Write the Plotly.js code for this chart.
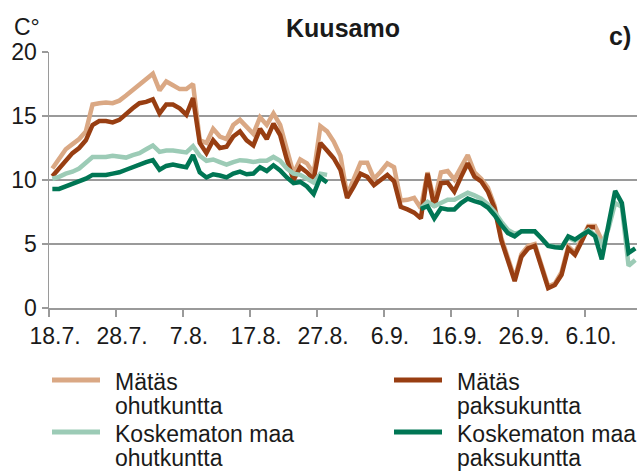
<!DOCTYPE html>
<html>
<head>
<meta charset="utf-8">
<script src="https://cdn.plot.ly/plotly-3.0.1.min.js"></script>
<style>html,body{margin:0;padding:0;background:#fff;}#chart{width:642px;height:473px;}</style>
</head>
<body>
<div id="chart"></div>
<script>
// Tick labels (every 10 days, starting 18.7.)
const tickLabels = ['18.7.', '28.7.', '7.8.', '17.8.', '27.8.', '6.9.', '16.9.', '26.9.', '6.10.'];

// Series names
const seriesNames = ['Mätäs<br>ohutkuntta', 'Mätäs<br>paksukuntta', 'Koskematon maa<br>ohutkuntta', 'Koskematon maa<br>paksukuntta'];

// Daily temperatures (°C), day 0 = 18.7.
const matasOhut = [10.9,11.7,12.4,12.8,13.2,13.8,15.9,16.0,16.05,16.0,
  16.2,16.6,17.0,17.4,17.8,18.3,17.0,17.7,17.4,17.1,
  17.1,17.5,13.1,12.9,14.0,13.4,13.2,14.3,14.7,14.1,
  13.6,14.9,14.3,15.2,14.3,12.4,10.5,11.6,11.3,10.5,
  14.2,13.8,13.0,11.9,8.8,10.1,11.35,11.35,10.1,10.65,
  11.3,11.0,8.4,8.45,8.6,7.8,10.6,8.3,10.6,10.7,
  10.05,11.0,11.95,10.6,10.1,9.4,8.0,5.5,3.8,2.3,
  4.2,4.85,5.0,3.4,1.7,1.9,2.8,4.8,4.3,5.4,
  6.4,6.4,5.3];

const matasPaksu = [10.3,10.9,11.6,12.1,12.5,13.1,14.3,14.6,14.6,14.5,
  14.7,15.2,15.6,16.0,16.1,16.3,15.2,15.9,15.9,15.6,
  15.1,16.4,12.9,12.1,13.1,12.5,12.6,13.4,13.8,13.1,
  12.7,14.0,13.2,14.4,13.5,11.6,10.0,11.0,10.6,10.05,
  12.9,12.3,11.7,10.8,8.6,9.5,10.5,10.25,9.6,10.0,
  10.4,9.9,7.9,7.7,7.45,7.0,10.5,7.9,9.75,9.8,
  9.1,10.25,11.3,10.25,9.9,9.1,7.8,5.3,3.6,2.1,
  4.0,4.65,4.85,3.2,1.55,1.8,2.6,4.65,4.15,5.2,
  6.3,6.3];

const koskOhut = [10.1,10.25,10.5,10.65,10.9,11.4,11.8,11.8,11.8,11.9,
  11.8,11.75,11.95,12.1,12.4,12.7,12.2,12.3,12.3,12.25,
  12.15,12.65,11.9,11.5,11.6,11.4,11.2,11.4,11.55,11.5,
  11.4,11.5,11.5,11.8,11.5,10.9,10.5,10.4,10.1,9.8,
  10.5,10.4,
  null,null,null,null,null,null,null,null,null,null,null,null,null,
  7.8,8.3,7.95,8.2,8.45,8.45,8.7,9.0,8.8,8.55,
  8.1,7.5,6.75,6.1,5.8,5.95,6.0,5.95,5.45,4.9,
  4.8,4.8,5.5,5.25,5.7,6.1,5.7,5.0,6.2,8.2,
  7.9,3.3,3.75];

const koskPaksu = [9.3,9.3,9.5,9.7,9.9,10.1,10.4,10.4,10.4,10.5,
  10.6,10.8,11.0,11.25,11.4,11.55,10.8,11.1,11.2,11.1,
  11.0,11.95,10.6,10.2,10.45,10.35,10.2,10.5,10.65,10.45,
  10.5,11.0,10.7,11.15,10.75,10.2,9.75,9.85,9.5,8.9,
  10.2,9.8,
  null,null,null,null,null,null,null,null,null,null,null,null,null,
  7.75,7.95,7.0,7.8,7.7,7.7,8.2,8.55,8.35,8.2,
  7.85,7.25,6.5,5.85,5.6,6.0,6.0,6.0,5.45,4.85,
  4.75,4.7,5.6,5.35,5.7,6.0,5.6,3.8,6.5,9.15,
  8.2,4.3,4.65];

const colors = ['#DAA884', '#983E12', '#9CCBB6', '#007654'];
const allSeries = [matasOhut, matasPaksu, koskOhut, koskPaksu];

const traces = allSeries.map((vals, i) => ({
  type: 'scatter',
  mode: 'lines',
  x: vals.map((_, k) => k),
  y: vals,
  name: seriesNames[i],
  connectgaps: false,
  line: {color: colors[i], width: 4.5},
  showlegend: false,
  hoverinfo: 'skip'
}));

const FONT = 'Liberation Sans, Arial, sans-serif';
const grey = '#9a9a9a';

// pixel helpers for legend/annotation placement (plot area 49..637 x 52..308)
const PX = p => (p - 49) / 588;
const PY = p => (308 - p) / 256;

const legendPos = [
  {lx: 52, tx: 113, y: 380},
  {lx: 394, tx: 455, y: 380},
  {lx: 52, tx: 113, y: 432},
  {lx: 394, tx: 455, y: 432}
];

const shapes = [];
const annotations = [];
seriesNames.forEach((nm, i) => {
  const p = legendPos[i];
  shapes.push({type: 'line', xref: 'paper', yref: 'paper',
    x0: PX(p.lx), x1: PX(p.lx + 48), y0: PY(p.y), y1: PY(p.y),
    line: {color: colors[i], width: 5}});
  const parts = nm.split('<br>');
  parts.forEach((t, j) => {
    annotations.push({xref: 'paper', yref: 'paper', x: PX(p.tx), y: PY(p.y + 2 + j * 23.5),
      xanchor: 'left', yanchor: 'middle', showarrow: false, text: t,
      font: {family: FONT, size: 23, color: '#1a1a1a'}});
  });
});

annotations.push({xref: 'paper', yref: 'paper', x: PX(27), y: PY(27), xanchor: 'center', yanchor: 'middle',
  showarrow: false, text: 'C°', font: {family: FONT, size: 23, color: '#1a1a1a'}});
annotations.push({xref: 'paper', yref: 'paper', x: PX(620), y: PY(36), xanchor: 'center', yanchor: 'middle',
  showarrow: false, text: '<b>c)</b>', font: {family: FONT, size: 25, color: '#1a1a1a'}});

const layout = {
  width: 642, height: 473,
  margin: {l: 49, r: 5, t: 52, b: 165},
  paper_bgcolor: '#ffffff', plot_bgcolor: '#ffffff',
  title: {text: '<b>Kuusamo</b>', x: 0.5, xref: 'paper', y: 1 - 28 / 473, yanchor: 'middle',
    font: {family: FONT, size: 25, color: '#1a1a1a'}},
  xaxis: {
    range: [-0.5, 87.26],
    tickmode: 'array',
    tickvals: tickLabels.map((_, i) => i * 10 - 0.5),
    ticktext: tickLabels,
    ticks: 'outside', ticklen: 7, tickwidth: 1.5, tickcolor: grey,
    ticklabelshift: 6,
    showgrid: false, zeroline: false,
    showline: true, linecolor: grey, linewidth: 1.5,
    tickfont: {family: FONT, size: 23, color: '#1a1a1a'},
    fixedrange: true
  },
  yaxis: {
    range: [0, 20],
    tickvals: [0, 5, 10, 15, 20],
    ticks: 'outside', ticklen: 6, tickwidth: 1.5, tickcolor: grey,
    showgrid: true, gridcolor: grey, gridwidth: 1.5,
    zeroline: false,
    showline: true, linecolor: grey, linewidth: 1.5,
    tickfont: {family: FONT, size: 23, color: '#1a1a1a'},
    fixedrange: true
  },
  shapes: shapes,
  annotations: annotations,
  showlegend: false
};

Plotly.newPlot('chart', traces, layout, {displayModeBar: false, staticPlot: true});
</script>
</body>
</html>
